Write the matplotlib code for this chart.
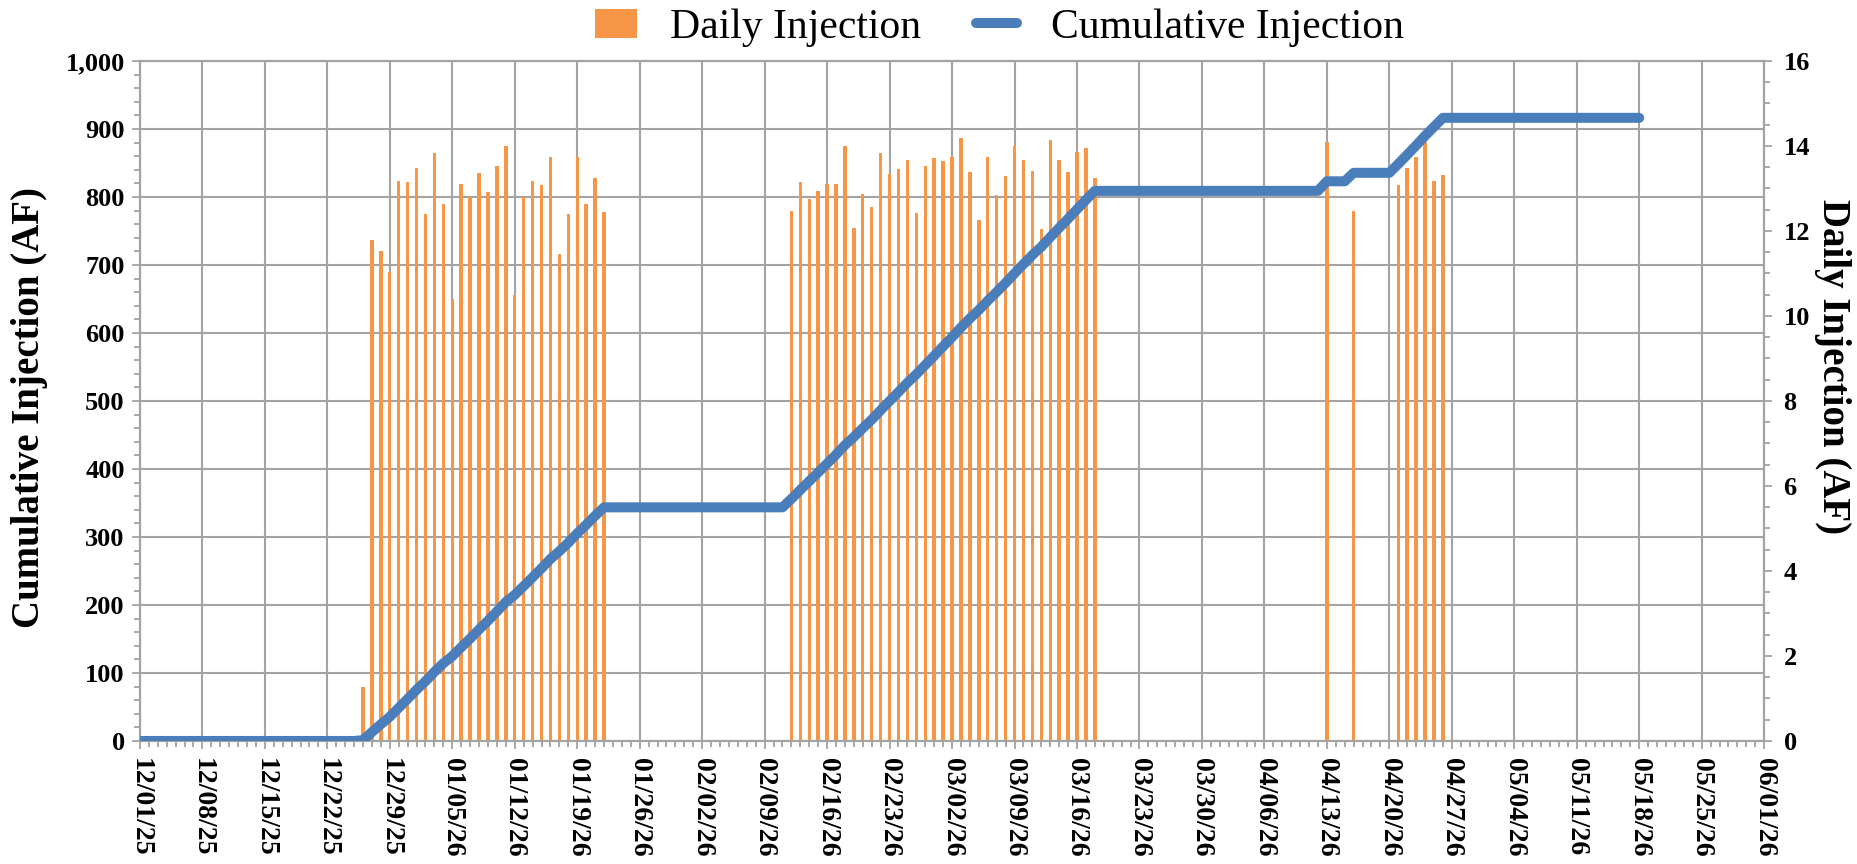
import numpy as np
import pandas as pd
import matplotlib
matplotlib.use('Agg')
import matplotlib.pyplot as plt
import matplotlib.dates as mdates
from matplotlib.patches import Patch
from matplotlib.lines import Line2D
from matplotlib.ticker import MultipleLocator, FuncFormatter

plt.rcParams['font.family'] = 'Liberation Serif'

# daily injection (AF)
group1_start = '2025-12-26'
group1_vals = [1.27, 11.79, 11.52, 11.03, 13.17, 13.15, 13.48, 12.39, 13.84, 12.63,
               10.40, 13.10, 12.81, 13.36, 12.92, 13.52, 13.99, 10.50, 12.81, 13.17,
               13.08, 13.73, 11.46, 12.40, 13.73, 12.64, 13.25, 12.45]
group2_start = '2026-02-12'
group2_vals = [12.47, 13.15, 12.75, 12.95, 13.10, 13.10, 14.00, 12.06, 12.86, 12.56,
               13.83, 13.33, 13.46, 13.68, 12.42, 13.52, 13.71, 13.64, 13.73, 14.18,
               13.38, 12.26, 13.73, 12.84, 13.30, 13.99, 13.68, 13.42, 12.04, 14.14,
               13.68, 13.39, 13.86, 13.96, 13.24]
group3_dates = ['2026-04-13', '2026-04-16', '2026-04-21', '2026-04-22', '2026-04-23',
                '2026-04-24', '2026-04-25', '2026-04-26']
group3_vals = [14.09, 12.47, 13.08, 13.48, 13.73, 14.09, 13.17, 13.31]

record_start = '2025-12-01'
record_end = '2026-05-18'
axis_start = '2025-12-01'
axis_end = '2026-06-01'

daily = pd.concat([
    pd.Series(group1_vals, index=pd.date_range(group1_start, periods=len(group1_vals))),
    pd.Series(group2_vals, index=pd.date_range(group2_start, periods=len(group2_vals))),
    pd.Series(group3_vals, index=pd.to_datetime(group3_dates)),
])
cumulative = daily.reindex(pd.date_range(record_start, record_end), fill_value=0).cumsum()

grid_col = '#a3a3a3'
bar_col = '#f79646'
line_col = '#4a7ebb'

fig = plt.figure(figsize=(18.58, 8.64), dpi=100)
ax = fig.add_axes([0.0753, 0.1424, 0.8742, 0.787])
ax2 = ax.twinx()

# bars above the grid, line above the bars
ax.set_zorder(1)
ax2.set_zorder(2)
ax2.patch.set_visible(False)

ax2.bar(daily.index, daily.values, width=0.38, color=bar_col, zorder=2)
ax2.plot(cumulative.index, cumulative.values, color=line_col, lw=7.2,
         solid_capstyle='round', transform=ax.transData, zorder=3)

ax.set_xlim(pd.Timestamp(axis_start), pd.Timestamp(axis_end))
ax.set_ylim(0, 1000)
ax2.set_ylim(0, 16)

ax.set_xticks(pd.date_range(axis_start, axis_end, freq='7D'))
ax.xaxis.set_major_formatter(mdates.DateFormatter('%m/%d/%y'))
ax.xaxis.set_minor_locator(mdates.DayLocator())
ax.yaxis.set_major_locator(MultipleLocator(100))
ax.yaxis.set_minor_locator(MultipleLocator(20))
ax.yaxis.set_major_formatter(FuncFormatter(lambda v, p: f'{int(v):,}'))
ax2.yaxis.set_major_locator(MultipleLocator(2))
ax2.yaxis.set_minor_locator(MultipleLocator(0.5))

ax.grid(True, which='major', color=grid_col, lw=1.5)
for a in (ax, ax2):
    for s in a.spines.values():
        s.set_color(grid_col)
        s.set_linewidth(1.5)
    a.tick_params(which='both', color=grid_col, width=1.3)
    a.tick_params(which='major', length=6)
    a.tick_params(which='minor', length=4)

for lab in ax.get_xticklabels():
    lab.set_rotation(-90)
    lab.set_fontsize(20)
    lab.set_fontweight('bold')
for lab in ax.get_yticklabels() + ax2.get_yticklabels():
    lab.set_fontsize(19)
    lab.set_fontweight('bold')
ax.tick_params(axis='x', pad=6)
ax.tick_params(axis='y', pad=5)
ax2.tick_params(axis='y', pad=8)

ax.set_ylabel('Cumulative Injection (AF)', fontsize=28, fontweight='bold', va='center')
ax.yaxis.set_label_coords(-0.068, 0.49)
ax2.set_ylabel('Daily Injection (AF)', fontsize=28, fontweight='bold', rotation=270,
               va='center')
ax2.yaxis.set_label_coords(1.042, 0.55)

handles = [Patch(facecolor=bar_col, edgecolor='none'),
           Line2D([0], [0], color=line_col, lw=7.2, solid_capstyle='round')]
fig.legend(handles, ['Daily Injection', 'Cumulative Injection'], loc='center',
           bbox_to_anchor=(0.538, 0.968), ncol=2, frameon=False, fontsize=30,
           handlelength=1.0, handleheight=0.7, columnspacing=1.3, handletextpad=0.8)

fig.savefig('out.png', dpi=100)
